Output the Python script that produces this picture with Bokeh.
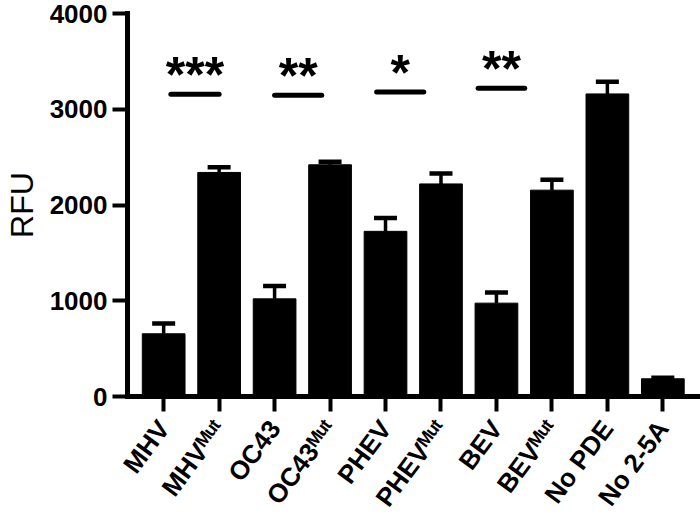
import math
from bokeh.plotting import figure
from bokeh.models import ColumnDataSource, Whisker, TeeHead, FixedTicker
from bokeh.core.properties import value
from bokeh.embed import file_html
from bokeh.resources import INLINE

# ---- data ----
labels_main = ["MHV", "MHV", "OC43", "OC43", "PHEV", "PHEV", "BEV", "BEV", "No PDE", "No 2-5A"]
labels_sup = ["", "Mut", "", "Mut", "", "Mut", "", "Mut", "", ""]
values = [655, 2340, 1020, 2420, 1725, 2220, 975, 2155, 3160, 185]
errors = [107, 55, 135, 33, 140, 108, 110, 108, 128, 10]
y_ticks = [0, 1000, 2000, 3000, 4000]

sig_start = [0.13, 2.00, 3.84, 5.67]
sig_end = [1.00, 2.85, 4.69, 6.51]
sig_y = [3156, 3146, 3180, 3219]
sig_text = ["***", "**", "*", "**"]

FONT = "Liberation Sans"
SUPERSCRIPT = {"M": "\u1d39", "u": "\u1d58", "t": "\u1d57"}

xs = list(range(len(values)))
src = ColumnDataSource(dict(
    x=xs, top=values,
    upper=[v + e for v, e in zip(values, errors)],
))

p = figure(width=700, height=526, output_backend="svg", toolbar_location=None,
           x_range=(-0.652, 9.625), y_range=(0, 4000),
           min_border_left=122, min_border_right=3, min_border_top=13,
           min_border_bottom=130)
p.outline_line_color = None
p.grid.visible = False

# bars
p.vbar(x="x", top="top", bottom=0, width=0.77, source=src,
       fill_color="black", line_color="black", line_width=1)

# error bars (upper only)
wh = Whisker(source=src, base="x", lower="top", upper="upper",
             line_color="black", line_width=3.5,
             upper_head=TeeHead(size=23, line_width=4.5, line_color="black"),
             lower_head=None)
p.add_layout(wh)

# significance lines and stars
sig_src = ColumnDataSource(dict(
    x0=sig_start, x1=sig_end, y=sig_y, text=sig_text,
    xc=[(a + b) / 2 for a, b in zip(sig_start, sig_end)],
))
p.segment(x0="x0", y0="y", x1="x1", y1="y", source=sig_src,
          line_color="black", line_width=5, line_cap="round")
p.text(x="xc", y="y", text="text", source=sig_src,
       text_font=value(FONT), text_font_style="bold", text_font_size="50px",
       text_align="center", text_baseline="alphabetic", y_offset=-19,
       text_color="black")

# axes
for ax in (p.xaxis[0], p.yaxis[0]):
    ax.axis_line_width = 5
    ax.axis_line_color = "black"
    ax.axis_line_cap = "square"
    ax.major_tick_line_width = 4
    ax.major_tick_line_color = "black"
    ax.major_tick_in = 0
    ax.major_tick_out = 15
    ax.minor_tick_line_color = None

xlabels = [m + "".join(SUPERSCRIPT[c] for c in s) for m, s in zip(labels_main, labels_sup)]
p.xaxis.ticker = FixedTicker(ticks=xs)
p.xaxis.major_label_overrides = {i: t for i, t in zip(xs, xlabels)}
p.xaxis.major_label_orientation = 0.93
p.xaxis.major_label_standoff = 12
p.xaxis.major_label_text_font = FONT
p.xaxis.major_label_text_font_style = "bold"
p.xaxis.major_label_text_font_size = "26px"
p.xaxis.major_label_text_color = "black"

p.yaxis.ticker = FixedTicker(ticks=y_ticks)
p.yaxis.major_label_text_font = FONT
p.yaxis.major_label_text_font_style = "bold"
p.yaxis.major_label_text_font_size = "26px"
p.yaxis.major_label_text_color = "black"
p.yaxis.major_label_standoff = 5
p.yaxis.axis_label = "RFU"
p.yaxis.axis_label_text_font = FONT
p.yaxis.axis_label_text_font_style = "normal"
p.yaxis.axis_label_text_font_size = "32px"
p.yaxis.axis_label_text_color = "black"
p.yaxis.axis_label_standoff = 7

open("out.html", "w").write(file_html(p, INLINE))
